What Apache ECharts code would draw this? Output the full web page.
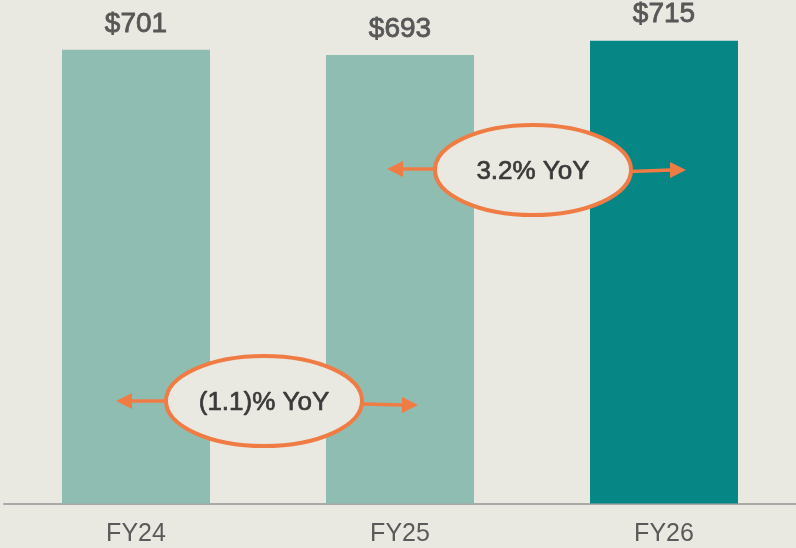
<!DOCTYPE html>
<html>
<head>
<meta charset="utf-8">
<script src="https://cdn.jsdelivr.net/npm/echarts@6/dist/echarts.min.js"></script>
<style>
  html, body { margin: 0; padding: 0; background: #eae9e1; }
  #chart { width: 796px; height: 548px; }
</style>
</head>
<body>
<div id="chart"></div>
<script>
// data
const categories = ['FY24', 'FY25', 'FY26'];
const values = [701, 693, 715];
const barColors = ['#8fbdb1', '#8fbdb1', '#068786'];
const yoyLabels = ['(1.1)% YoY', '3.2% YoY'];

const ORANGE = '#f07c45';
const FONT = '"Liberation Sans", Arial, sans-serif';

const chart = echarts.init(document.getElementById('chart'));

// 椭圆 + 左右箭头
function bubble(cx, cy, text, left, right) {
  const items = [];
  items.push({
    type: 'line', z: 10,
    shape: { x1: left.from[0], y1: left.from[1], x2: left.to[0] + 14, y2: left.to[1] },
    style: { stroke: ORANGE, lineWidth: 3.5 }
  });
  items.push({
    type: 'polygon', z: 10,
    shape: { points: [[left.to[0], left.to[1]], [left.to[0] + 16, left.to[1] - 8], [left.to[0] + 16, left.to[1] + 8]] },
    style: { fill: ORANGE }
  });
  items.push({
    type: 'line', z: 10,
    shape: { x1: right.from[0], y1: right.from[1], x2: right.to[0] - 14, y2: right.to[1] },
    style: { stroke: ORANGE, lineWidth: 3.5 }
  });
  items.push({
    type: 'polygon', z: 10,
    shape: { points: [[right.to[0], right.to[1]], [right.to[0] - 16, right.to[1] - 8], [right.to[0] - 16, right.to[1] + 8]] },
    style: { fill: ORANGE }
  });
  items.push({
    type: 'ellipse', z: 11,
    shape: { cx: cx, cy: cy, rx: 98, ry: 45 },
    style: { fill: '#eae9e1', stroke: ORANGE, lineWidth: 4 }
  });
  items.push({
    type: 'text', z: 12,
    x: cx, y: cy + 2,
    style: {
      text: text, fill: '#3a3a3a', font: '26px ' + FONT,
      stroke: '#3a3a3a', lineWidth: 0.7,
      textAlign: 'center', textVerticalAlign: 'middle'
    }
  });
  return items;
}

chart.setOption({
  backgroundColor: '#eae9e1',
  animation: false,
  grid: { left: 4, right: 0, top: 0, bottom: 44.5 },
  xAxis: {
    type: 'category',
    data: categories,
    axisLine: { lineStyle: { color: '#a9a9a9', width: 2 } },
    axisTick: { show: false },
    axisLabel: { color: '#5a5a5a', fontSize: 25, fontFamily: FONT, margin: 18 }
  },
  yAxis: {
    type: 'value',
    min: 0,
    max: 778,
    show: false,
    splitLine: { show: false }
  },
  series: [
    {
      type: 'bar',
      barWidth: 148,
      data: values.map((v, i) => ({ value: v, itemStyle: { color: barColors[i] } })),
      label: {
        show: true,
        position: 'top',
        distance: 12,
        color: '#575757',
        textBorderColor: '#575757',
        textBorderWidth: 0.8,
        fontSize: 28,
        fontFamily: FONT,
        formatter: p => '$' + p.value
      }
    }
  ],
  graphic: [
    ...bubble(264, 401, yoyLabels[0], { from: [166, 401], to: [116, 401] }, { from: [361, 404], to: [418, 405] }),
    ...bubble(533, 170, yoyLabels[1], { from: [436, 169], to: [387, 169] }, { from: [630, 171.5], to: [686, 170] })
  ]
});
</script>
</body>
</html>
